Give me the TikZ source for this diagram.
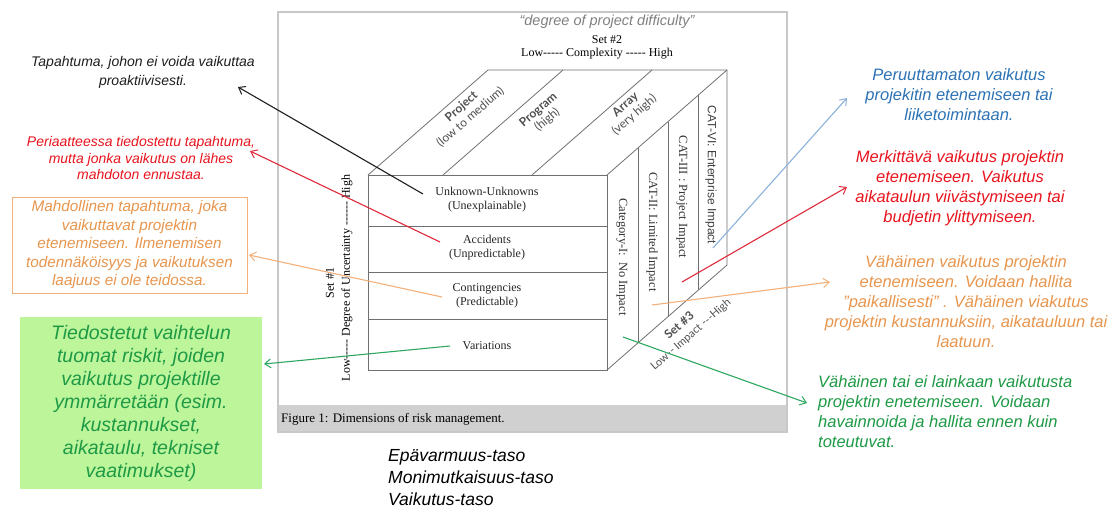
\documentclass[tikz,border=0pt]{standalone}
\usepackage{fontspec}
\setmainfont{Liberation Serif}
\newfontfamily\tnr{Liberation Serif}
\newfontfamily\arial{Liberation Sans}
\newfontfamily\gill{Lato}
\usetikzlibrary{arrows.meta}

\definecolor{framegray}{HTML}{C8C8C8}
\definecolor{bandgray}{HTML}{D0D0D0}
\definecolor{cubeline}{HTML}{707070}
\definecolor{labelgray}{HTML}{505050}
\definecolor{quotegray}{HTML}{808080}
\definecolor{noteblack}{HTML}{1E1E1E}
\definecolor{notered}{HTML}{E8141E}
\definecolor{arrowred}{HTML}{E02A3C}
\definecolor{noteorange}{HTML}{E8964E}
\definecolor{arroworange}{HTML}{F3B07A}
\definecolor{notegreen}{HTML}{1E9A46}
\definecolor{arrowgreen}{HTML}{2EA860}
\definecolor{noteblue}{HTML}{2C72B4}
\definecolor{arrowblue}{HTML}{8CB2DC}
\definecolor{boxgreen}{HTML}{BDF59A}

\begin{document}
\begin{tikzpicture}[x=1pt,y=-1pt,
  cube/.style={draw=cubeline,line width=0.8pt},
  facetext/.style={font=\tnr\fontsize{12}{14}\selectfont,align=center,text=black!85,inner sep=0pt},
  sidetext/.style={font=\tnr\fontsize{12.5}{14}\selectfont,text=black!80,inner sep=0pt},
  toptext/.style={font=\gill\fontsize{12}{13.5}\selectfont,align=center,text=labelgray,inner sep=0pt,rotate=41},
  note/.style={font=\arial\itshape\fontsize{14}{16.5}\selectfont,align=center,inner sep=0pt},
  bignote/.style={font=\arial\itshape\fontsize{16.5}{20}\selectfont,align=center,inner sep=0pt},
  pointer/.style={line width=1.1pt,-{Straight Barb[length=6pt,width=9pt,line width=1pt]}}
]
\useasboundingbox (0,0) rectangle (1117,512);
\fill[white] (0,0) rectangle (1117,512);

% figure panel with caption band
\fill[bandgray] (278,405) rectangle (787,432);
\draw[framegray,line width=2pt] (278,12) rectangle (787,432);
\node[font=\tnr\fontsize{13}{15}\selectfont,anchor=west,inner sep=0pt] (caption) at (281,419) {Figure 1: Dimensions of risk management.};

% cube corners
\coordinate (F1) at (368,175);
\coordinate (F2) at (607,175);
\coordinate (F3) at (607,370);
\coordinate (F4) at (368,370);
\coordinate (B1) at (488,70);
\coordinate (B2) at (727,70);
\coordinate (B3) at (727,265);

% front face and its rows
\draw[cube] (F1) rectangle (F3);
\draw[cube] (368,226) -- (607,226);
\draw[cube] (368,272) -- (607,272);
\draw[cube] (368,319) -- (607,319);
% top and right faces
\draw[cube] (F1) -- (B1) -- (B2) -- (B3) -- (F3);
\draw[cube] (F2) -- (B2);
% top face strips
\draw[cube] (443,175) -- (563,70);
\draw[cube] (532,175) -- (652,70);
% right face strips
\draw[cube] (638,148) -- (638,343);
\draw[cube] (668,122) -- (668,317);
\draw[cube] (698,95) -- (698,290);

% front face labels
\node[facetext] (uu) at (487,200) {Unknown-Unknowns\\(Unexplainable)};
\node[facetext] (acc) at (487,248) {Accidents\\(Unpredictable)};
\node[facetext] (con) at (487,296) {Contingencies\\(Predictable)};
\node[facetext] (var) at (487,346) {Variations};

% right face labels
\node[sidetext,rotate=-90] (cat1) at (622,257) {Category-I:\ \ No Impact};
\node[sidetext,rotate=-90] (cat2) at (652,232) {CAT-II: Limited Impact};
\node[sidetext,rotate=-90] (cat3) at (682,197) {CAT-III : Project Impact};
\node[font=\arial\fontsize{12}{14}\selectfont,text=black!75,inner sep=0pt,rotate=-90] (cat4) at (711,175) {CAT-VI: Enterprise Impact};

% top face labels
\node[toptext] (proj) at (466,112) {\textbf{Project}\\(low to medium)};
\node[toptext] (prog) at (543,115) {\textbf{Program}\\(high)};
\node[toptext] (arr) at (630,110) {\textbf{Array}\\(very high)};

% axis titles
\node[font=\arial\itshape\fontsize{14.5}{16}\selectfont,text=quotegray,inner sep=0pt] (difficulty) at (607,22) {“degree of project difficulty”};
\node[font=\tnr\fontsize{12}{14}\selectfont,inner sep=0pt] (set2) at (607,40) {Set \#2};
\node[font=\tnr\fontsize{12}{14}\selectfont,inner sep=0pt] (axis2) at (597,54) {Low-\kern0pt-\kern0pt-\kern0pt-\kern0pt- Complexity -\kern0pt-\kern0pt-\kern0pt-\kern0pt- High};
\node[font=\tnr\fontsize{12}{14}\selectfont,inner sep=0pt,rotate=90] (set1) at (330,283) {Set \#1};
\node[font=\tnr\fontsize{12}{14}\selectfont,inner sep=0pt,rotate=90] (axis1) at (347,278) {Low-\kern0pt-\kern0pt-\kern0pt-\kern0pt- Degree of Uncertainty -\kern0pt-\kern0pt-\kern0pt-\kern0pt-\kern0pt- High};
\node[font=\gill\bfseries\fontsize{12}{14}\selectfont,text=labelgray,inner sep=0pt,rotate=41] (set3) at (679,325) {Set \#3};
\node[font=\gill\fontsize{11}{13}\selectfont,text=labelgray,inner sep=0pt,rotate=41] (axis3) at (691,335) {Low-\kern0pt- Impact -\kern0pt-\kern0pt-High};

% left notes
\node[note,text=noteblack,font=\arial\itshape\fontsize{14}{19}\selectfont] (nA) at (143,72) {Tapahtuma, johon ei voida vaikuttaa\\proaktiivisesti.};
\node[note,text=notered] (nB) at (141,158) {Periaatteessa tiedostettu tapahtuma,\\mutta jonka vaikutus on lähes\\mahdoton ennustaa.};
\node[note,text=noteorange,draw=arroworange,line width=1pt,minimum width=235,minimum height=96,font=\arial\itshape\fontsize{15.3}{18.5}\selectfont] (nC) at (129.5,245) {Mahdollinen tapahtuma, joka\\vaikuttavat projektin\\etenemiseen. Ilmenemisen\\todennäköisyys ja vaikutuksen\\laajuus ei ole teidossa.};
\node[note,text=notegreen,fill=boxgreen,minimum width=242,minimum height=172,font=\arial\itshape\fontsize{19.5}{23}\selectfont] (nD) at (141,403) {Tiedostetut vaihtelun\\tuomat riskit, joiden\\vaikutus projektille\\ymmärretään (esim.\\kustannukset,\\aikataulu, tekniset\\vaatimukset)};

% right notes
\node[bignote,text=noteblue] (nE) at (959,95) {Peruuttamaton vaikutus\\projekitin etenemiseen tai\\liiketoimintaan.};
\node[bignote,text=notered] (nF) at (960,188) {Merkittävä vaikutus projektin\\etenemiseen. Vaikutus\\aikataulun viivästymiseen tai\\budjetin ylittymiseen.};
\node[bignote,text=noteorange] (nG) at (966,302) {Vähäinen vaikutus projektin\\etenemiseen. Voidaan hallita\\”paikallisesti” . Vähäinen viakutus\\projektin kustannuksiin, aikatauluun tai\\laatuun.};
\node[bignote,text=notegreen,align=left,anchor=west] (nH) at (818,412) {Vähäinen tai ei lainkaan vaikutusta\\projektin enetemiseen. Voidaan\\havainnoida ja hallita ennen kuin\\toteutuvat.};

% level legend
\node[font=\arial\itshape\fontsize{17.5}{22}\selectfont,align=left,anchor=north west,inner sep=0pt] (legend) at (388,449) {Epävarmuus-taso\\Monimutkaisuus-taso\\Vaikutus-taso};

% pointer ends
\coordinate (sA) at (423,194); \coordinate (tA) at (238,87);
\coordinate (sB) at (440,242); \coordinate (tB) at (250,151);
\coordinate (sC) at (442,297); \coordinate (tC) at (249,255);
\coordinate (sD) at (450,346); \coordinate (tD) at (264,364);
\coordinate (sE) at (713,248); \coordinate (tE) at (847,98);
\coordinate (sF) at (682,282); \coordinate (tF) at (847,187);
\coordinate (sG) at (652,305); \coordinate (tG) at (830,282);
\coordinate (sH) at (623,337); \coordinate (tH) at (807,403);

\draw[pointer,draw=noteblack] (sA) -- (tA);
\draw[pointer,draw=arrowred] (sB) -- (tB);
\draw[pointer,draw=arroworange] (sC) -- (tC);
\draw[pointer,draw=arrowgreen] (sD) -- (tD);
\draw[pointer,draw=arrowblue] (sE) -- (tE);
\draw[pointer,draw=arrowred] (sF) -- (tF);
\draw[pointer,draw=arroworange] (sG) -- (tG);
\draw[pointer,draw=arrowgreen] (sH) -- (tH);
\end{tikzpicture}
\end{document}
